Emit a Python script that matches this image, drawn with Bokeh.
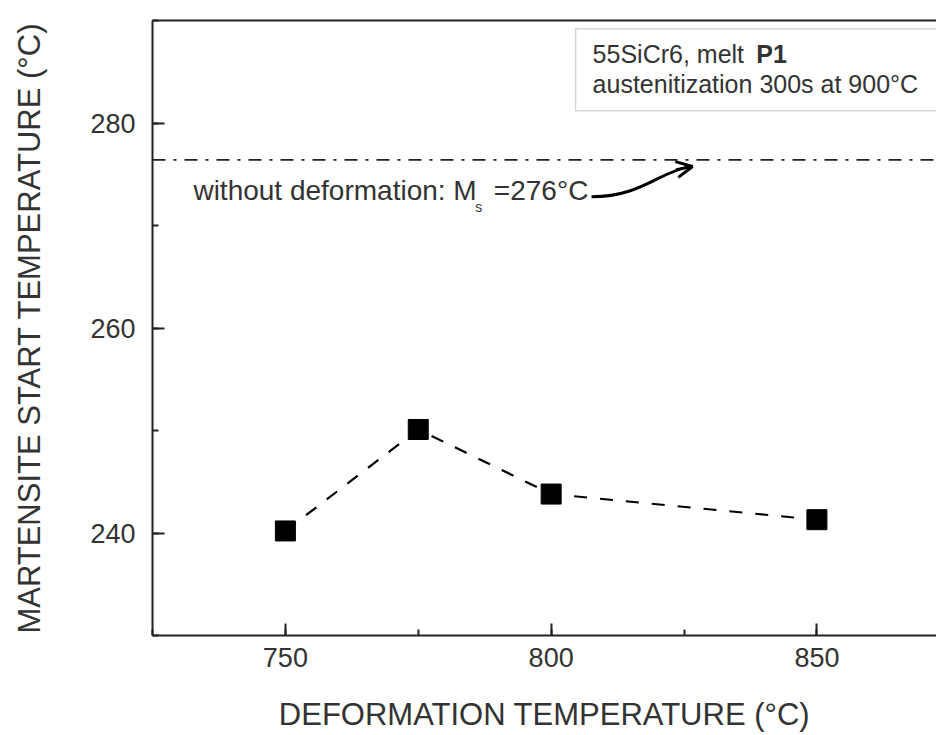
from bokeh.plotting import figure
from bokeh.models import (Range1d, LinearAxis, FixedTicker, SingleIntervalTicker, Span, Label,
                          BoxAnnotation, Arrow, OpenHead, ColumnDataSource)
from bokeh.embed import file_html
from bokeh.resources import INLINE

# ---- data ----
deform_temp = [750, 775, 800, 850]
ms_temp = [240.2, 250.1, 243.8, 241.3]
ms_no_deformation = 276.4
x_ticks = [750, 800, 850]
y_ticks = [240, 260, 280]

FONT = "Liberation Sans"
TXT = "#333333"

p = figure(width=936, height=735, output_backend="svg", toolbar_location=None,
           x_range=Range1d(725, 872.5), y_range=Range1d(230, 290),
           min_border_left=152, min_border_right=0, min_border_top=20, min_border_bottom=100)
p.outline_line_color = None
p.grid.visible = False
p.background_fill_color = "white"
p.border_fill_color = "white"

for ax in (p.xaxis[0], p.yaxis[0]):
    ax.axis_line_width = 2
    ax.axis_line_color = "#222222"
    ax.major_tick_in = 12
    ax.major_tick_out = 0
    ax.minor_tick_in = 6
    ax.minor_tick_out = 0
    ax.major_tick_line_width = 2
    ax.minor_tick_line_width = 2
    ax.major_tick_line_color = "#222222"
    ax.minor_tick_line_color = "#222222"
    ax.major_label_text_font = FONT
    ax.major_label_text_font_size = "27px"
    ax.major_label_text_color = TXT
    ax.axis_label_text_font = FONT
    ax.axis_label_text_font_size = "31px"
    ax.axis_label_text_font_style = "normal"
    ax.axis_label_text_color = TXT

p.xaxis[0].ticker = SingleIntervalTicker(interval=50, num_minor_ticks=2)
p.yaxis[0].ticker = SingleIntervalTicker(interval=20, num_minor_ticks=2)
p.xaxis[0].axis_label = "DEFORMATION TEMPERATURE (°C)"
p.yaxis[0].axis_label = "MARTENSITE START TEMPERATURE (°C)"
p.xaxis[0].major_label_standoff = 12
p.xaxis[0].axis_label_standoff = 27
p.yaxis[0].major_label_standoff = 17
p.yaxis[0].axis_label_standoff = 40

top = LinearAxis(ticker=FixedTicker(ticks=[]), major_label_text_font_size="0px",
                 axis_line_width=2, axis_line_color="#222222", major_label_standoff=0)
p.add_layout(top, "above")

# reference level without deformation
p.add_layout(Span(location=ms_no_deformation, dimension="width", line_color="#222222",
                  line_width=1.6, line_dash="13 8 3 8"))

src = ColumnDataSource(dict(x=deform_temp, y=ms_temp))
p.line("x", "y", source=src, line_color="black", line_width=2.2, line_dash="13 13")
p.scatter("x", "y", source=src, marker="square", size=20, fill_color="black", line_color="black")

# annotation text
p.add_layout(Label(x=732.7, y=273.4, text="without deformation: M", text_font=FONT,
                   text_font_size="28px", text_color=TXT, text_baseline="middle", text_align="left"))
p.add_layout(Label(x=786.4, y=271.8, text="s", text_font=FONT,
                   text_font_size="14px", text_color=TXT, text_baseline="middle", text_align="center"))
p.add_layout(Label(x=807.0, y=273.4, text="=276°C", text_font=FONT,
                   text_font_size="28px", text_color=TXT, text_baseline="middle", text_align="right"))

# curved arrow
p.bezier(x0=[807.6], y0=[272.8], x1=[826.0], y1=[275.72],
         cx0=[817.0], cy0=[272.8], cx1=[820.5], cy1=[275.3],
         line_color="black", line_width=3)
p.add_layout(Arrow(end=OpenHead(size=16, line_width=3, line_color="black"),
                   x_start=823.5, y_start=275.45, x_end=826.6, y_end=275.76,
                   line_width=3, line_color="black"))

# info box
p.add_layout(BoxAnnotation(left=804.6, right=880, top=289.2, bottom=281.2,
                           fill_color="white", fill_alpha=1.0,
                           line_color="#777777", line_width=1.5))
p.add_layout(Label(x=807.8, y=286.7, text="55SiCr6, melt", text_font=FONT,
                   text_font_size="25px", text_color=TXT, text_baseline="middle"))
p.add_layout(Label(x=838.6, y=286.7, text="P1", text_font=FONT, text_font_style="bold",
                   text_font_size="25px", text_color=TXT, text_baseline="middle"))
p.add_layout(Label(x=807.8, y=283.76, text="austenitization 300s at 900°C", text_font=FONT,
                   text_font_size="25px", text_color=TXT, text_baseline="middle"))

open("out.html", "w").write(file_html(p, INLINE))
